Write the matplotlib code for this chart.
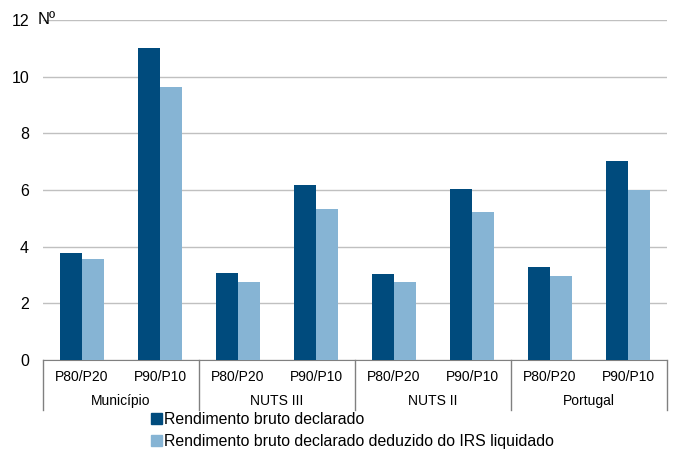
import matplotlib.pyplot as plt
import matplotlib.transforms as mtransforms
from matplotlib.patches import Patch

plt.rcParams['font.family'] = ['Liberation Sans', 'DejaVu Sans']

grupos = ['Município', 'NUTS III', 'NUTS II', 'Portugal']
indicadores = ['P80/P20', 'P90/P10']
bruto = [3.78, 11.0, 3.07, 6.18, 3.03, 6.04, 3.30, 7.02]
liquido = [3.57, 9.65, 2.77, 5.33, 2.77, 5.22, 2.97, 6.0]
serie_nomes = ['Rendimento bruto declarado',
               'Rendimento bruto declarado deduzido do IRS liquidado']

cor_escura = '#004b7d'
cor_clara = '#86b4d4'

fig = plt.figure(figsize=(6.73, 4.53), dpi=100)
ax = fig.add_axes([43 / 673, 93 / 453, 624 / 673, 340 / 453])

x = list(range(len(bruto)))
w = 0.28
ax.bar([i - w / 2 for i in x], bruto, width=w, color=cor_escura, zorder=3)
ax.bar([i + w / 2 for i in x], liquido, width=w, color=cor_clara, zorder=3)

ax.set_xlim(-0.5, len(bruto) - 0.5)
ax.set_ylim(0, 12)
ax.set_yticks(range(0, 13, 2))
ax.set_xticks([])
ax.yaxis.grid(True, color='#c0c0c0', lw=1, zorder=0)
for s in ['top', 'right', 'left']:
    ax.spines[s].set_visible(False)
ax.spines['bottom'].set_color('#808080')
ax.tick_params(axis='y', length=0, pad=10, labelsize=11.5)

fig.text(38 / 673, 1 - 19 / 453, 'Nº', fontsize=12, va='center', ha='left')

trans = mtransforms.blended_transform_factory(ax.transData, ax.transAxes)
for i in x:
    ax.text(i, -0.05, indicadores[i % 2], transform=trans,
            ha='center', va='center', fontsize=10)
for g, nome in enumerate(grupos):
    ax.text(2 * g + 0.5, -0.122, nome, transform=trans,
            ha='center', va='center', fontsize=10)
for d in [-0.5, 1.5, 3.5, 5.5, 7.5]:
    ax.plot([d, d], [0, -0.147], transform=trans, color='#808080',
            lw=1, clip_on=False)

handles = [Patch(color=cor_escura), Patch(color=cor_clara)]
fig.legend(handles, serie_nomes, loc='upper left',
           bbox_to_anchor=(145 / 673, 1 - 406 / 453), frameon=False,
           fontsize=11.4, handlelength=0.7, handleheight=0.7,
           handletextpad=0.1, labelspacing=0.45, borderaxespad=0)

fig.savefig('out.png', dpi=100)
